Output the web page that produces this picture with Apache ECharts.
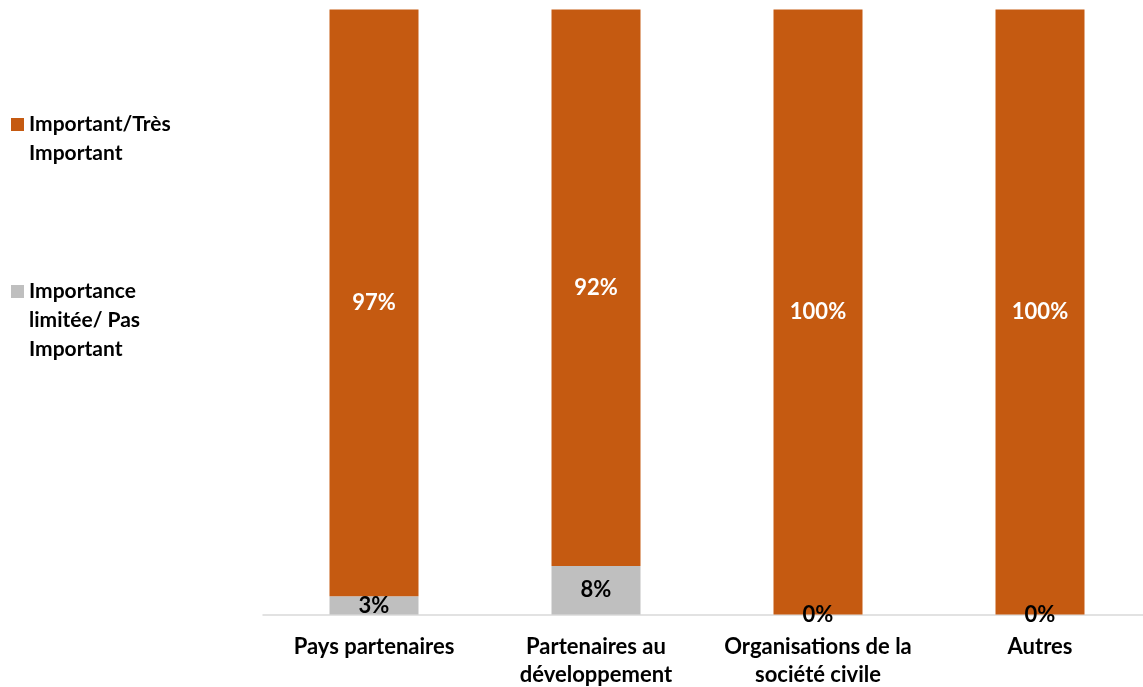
<!DOCTYPE html>
<html>
<head>
<meta charset="utf-8">
<script src="https://cdn.jsdelivr.net/npm/echarts@6/dist/echarts.min.js"></script>
<style>
  html, body { margin: 0; padding: 0; background: #fff; }
  #chart { width: 1143px; height: 687px; }
</style>
</head>
<body>
<div id="chart"></div>
<script>
// catégories et valeurs (%)
var categories = ['Pays partenaires', 'Partenaires au\ndéveloppement', 'Organisations de la\nsociété civile', 'Autres'];
var importantValues = [97, 92, 100, 100];
var limiteeValues = [3, 8, 0, 0];
var seriesNames = ['Important/Très\nImportant', 'Importance\nlimitée/ Pas\nImportant'];

var fontFamily = 'Lato, "Open Sans", sans-serif';
var lineH = 29;

var chart = echarts.init(document.getElementById('chart'));

// carré de légende calé sur la première ligne du texte
function legendIcon(nLines) {
    var h = lineH * nLines;
    return 'path://M0,0h0.01M0,8h13v13h-13zM0,' + h + 'h0.01';
}

function makeLegend(name, nLines, top) {
    return {
        orient: 'vertical',
        left: 11,
        top: top,
        padding: 0,
        itemWidth: 13,
        itemHeight: lineH * nLines,
        data: [{ name: name, icon: legendIcon(nLines) }],
        textStyle: {
            fontFamily: fontFamily,
            fontWeight: 'bold',
            fontSize: 21,
            color: '#000',
            lineHeight: lineH
        }
    };
}

var option = {
    animation: false,
    color: ['#BFBFBF', '#C55A11'],
    legend: [
        makeLegend(seriesNames[0], 2, 110),
        makeLegend(seriesNames[1], 3, 277)
    ],
    grid: {
        left: 263,
        right: -8,
        top: 9.5,
        bottom: 72.5,
        outerBoundsMode: 'none'
    },
    xAxis: {
        type: 'category',
        data: categories,
        axisLine: { lineStyle: { color: '#D9D9D9', width: 1.5 } },
        axisTick: { show: false },
        axisLabel: {
            interval: 0,
            margin: 18.5,
            fontFamily: fontFamily,
            fontWeight: 'bold',
            fontSize: 22,
            lineHeight: 28,
            color: '#000'
        }
    },
    yAxis: {
        type: 'value',
        min: 0,
        max: 100,
        show: false,
        splitLine: { show: false }
    },
    series: [
        {
            name: seriesNames[1],
            type: 'bar',
            stack: 'total',
            barWidth: 89,
            data: limiteeValues,
            label: {
                show: true,
                position: 'inside',
                formatter: '{c}%',
                fontFamily: fontFamily,
                fontWeight: 'bold',
                fontSize: 22,
                color: '#000'
            }
        },
        {
            name: seriesNames[0],
            type: 'bar',
            stack: 'total',
            barWidth: 89,
            data: importantValues,
            label: {
                show: true,
                position: 'inside',
                formatter: '{c}%',
                fontFamily: fontFamily,
                fontWeight: 'bold',
                fontSize: 22,
                color: '#fff'
            }
        }
    ]
};

chart.setOption(option);
</script>
</body>
</html>
